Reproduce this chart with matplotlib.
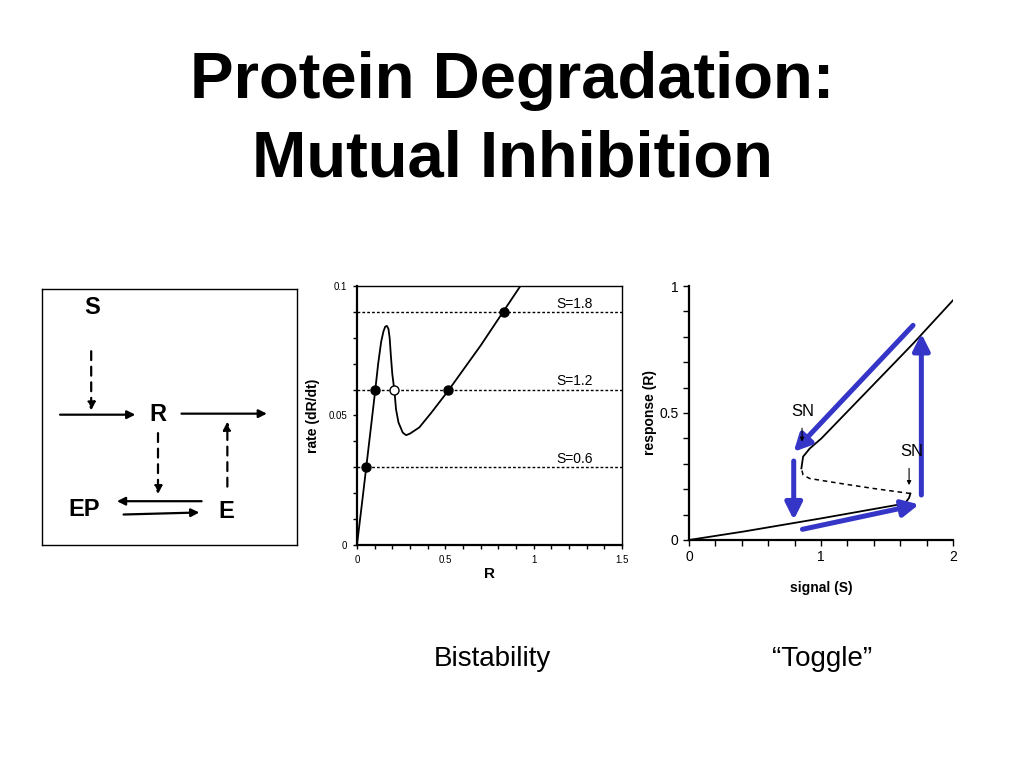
import numpy as np
import matplotlib.pyplot as plt
from matplotlib.ticker import MultipleLocator

plt.rcParams['font.family'] = ['Liberation Sans', 'DejaVu Sans']

# rate curve (degradation rate vs R)
rate_R = [0, 0.03, 0.0525, 0.08, 0.103, 0.12, 0.137, 0.150, 0.160, 0.169, 0.178, 0.185, 0.192, 0.200,
          0.212, 0.221, 0.235, 0.259, 0.278, 0.30, 0.353, 0.42, 0.516, 0.60, 0.70, 0.831, 0.925]
rate_val = [0, 0.017, 0.030, 0.046, 0.0595, 0.070, 0.0785, 0.0825, 0.0843, 0.0846, 0.0835, 0.080, 0.073, 0.066,
            0.0595, 0.0524, 0.0473, 0.0434, 0.0424, 0.0430, 0.0454, 0.051, 0.0595, 0.0675, 0.077, 0.0904, 0.1]
prod_S = ['S=0.6', 'S=1.2', 'S=1.8']
prod_rate = [0.03, 0.06, 0.09]
stable_R = [0.0525, 0.103, 0.516, 0.831]
stable_rate = [0.03, 0.06, 0.06, 0.09]
unstable_R = [0.212]
unstable_rate = [0.06]

# bifurcation diagram
low_S = [0, 0.41, 1.0, 1.596, 1.646, 1.667, 1.677]
low_R = [0, 0.033, 0.085, 0.140, 0.151, 0.166, 0.183]
mid_S = [1.677, 1.394, 1.141, 0.914, 0.864, 0.851]
mid_R = [0.183, 0.203, 0.223, 0.242, 0.256, 0.282]
up_S = [0.851, 0.864, 0.914, 1.003, 1.394, 1.697, 2.0]
up_R = [0.282, 0.328, 0.360, 0.400, 0.610, 0.773, 0.944]
# hysteresis arrows (start S, start R, end S, end R)
loop_arrows = [(1.697, 0.845, 0.793, 0.347),
               (0.793, 0.311, 0.793, 0.079),
               (0.859, 0.042, 1.742, 0.140),
               (1.760, 0.177, 1.760, 0.813)]

blue = '#3535C8'

fig = plt.figure(figsize=(10.24, 7.68), dpi=100)
fig.text(0.5, 0.895, 'Protein Degradation:', ha='center', va='center', fontsize=47, fontweight='bold')
fig.text(0.5, 0.792, 'Mutual Inhibition', ha='center', va='center', fontsize=47, fontweight='bold')

# ---- reaction scheme ----
ax0 = fig.add_axes([0.041, 0.2904, 0.249, 0.3333])
ax0.set_xlim(0, 1)
ax0.set_ylim(0, 1)
ax0.set_xticks([])
ax0.set_yticks([])
for sp in ax0.spines.values():
    sp.set_linewidth(1.0)
for lab, x, y in [('S', 0.195, 0.929), ('R', 0.455, 0.509), ('EP', 0.164, 0.140), ('E', 0.724, 0.132)]:
    ax0.text(x, y, lab, ha='center', va='center', fontsize=17, fontweight='bold')

solid = dict(arrowstyle='-|>', color='k', lw=1.6, mutation_scale=12, shrinkA=0, shrinkB=0)
dashed = dict(arrowstyle='-|>', color='k', lw=1.6, mutation_scale=12, shrinkA=0, shrinkB=0,
              linestyle=(0, (4, 3)))
ax0.annotate('', xy=(0.366, 0.509), xytext=(0.071, 0.509), arrowprops=solid)
ax0.annotate('', xy=(0.882, 0.513), xytext=(0.547, 0.513), arrowprops=solid)
ax0.annotate('', xy=(0.294, 0.171), xytext=(0.626, 0.171), arrowprops=solid)
ax0.annotate('', xy=(0.617, 0.127), xytext=(0.320, 0.119), arrowprops=solid)
ax0.annotate('', xy=(0.193, 0.525), xytext=(0.193, 0.757), arrowprops=dashed)
ax0.annotate('', xy=(0.455, 0.198), xytext=(0.455, 0.437), arrowprops=dashed)
ax0.annotate('', xy=(0.727, 0.482), xytext=(0.727, 0.228), arrowprops=dashed)

# ---- rate plot ----
ax1 = fig.add_axes([0.3486, 0.2904, 0.2588, 0.3372])
ax1.plot(rate_R, rate_val, color='k', lw=1.3)
for lab, r in zip(prod_S, prod_rate):
    ax1.axhline(r, color='k', lw=1.0, linestyle=(0, (2, 1.5)))
    ax1.text(1.23, r + 0.0005, lab, ha='center', va='bottom', fontsize=10)
ax1.plot(stable_R, stable_rate, 'o', color='k', markersize=6.5)
ax1.plot(unstable_R, unstable_rate, 'o', mfc='white', mec='k', markersize=6.5, mew=1)
ax1.set_xlim(0, 1.5)
ax1.set_ylim(0, 0.1)
ax1.set_xticks([0, 0.5, 1, 1.5])
ax1.set_xticklabels(['0', '0.5', '1', '1.5'])
ax1.set_yticks([0, 0.05, 0.1])
ax1.set_yticklabels(['0', '0.05', '0.1'])
ax1.xaxis.set_minor_locator(MultipleLocator(0.1))
ax1.yaxis.set_minor_locator(MultipleLocator(0.01))
ax1.tick_params(which='both', labelsize=7, length=3, width=1, pad=4)
ax1.set_xlabel('R', fontsize=11, fontweight='bold', labelpad=2)
ax1.set_ylabel('rate (dR/dt)', fontsize=10, fontweight='bold', labelpad=6)
for sp in ax1.spines.values():
    sp.set_linewidth(1.0)
ax1.spines['left'].set_linewidth(1.6)
ax1.spines['bottom'].set_linewidth(1.6)

# ---- bifurcation plot ----
ax2 = fig.add_axes([0.6729, 0.2969, 0.2578, 0.3307])
ax2.plot(low_S, low_R, color='k', lw=1.3)
ax2.plot(mid_S, mid_R, color='k', lw=1.1, linestyle=(0, (3, 2.5)))
ax2.plot(up_S, up_R, color='k', lw=1.3)
for s0, r0, s1, r1 in loop_arrows:
    ax2.annotate('', xy=(s1, r1), xytext=(s0, r0),
                 arrowprops=dict(arrowstyle='-|>,head_length=1.0,head_width=0.5', color=blue,
                                 lw=3.6, mutation_scale=10, shrinkA=0, shrinkB=0))
ax2.text(0.864, 0.505, 'SN', ha='center', va='center', fontsize=12)
ax2.annotate('', xy=(0.856, 0.387), xytext=(0.856, 0.44),
             arrowprops=dict(arrowstyle='-|>', color='k', lw=0.8, mutation_scale=6, shrinkA=0, shrinkB=0))
ax2.text(1.684, 0.347, 'SN', ha='center', va='center', fontsize=12)
ax2.annotate('', xy=(1.667, 0.216), xytext=(1.667, 0.282),
             arrowprops=dict(arrowstyle='-|>', color='k', lw=0.8, mutation_scale=6, shrinkA=0, shrinkB=0))
ax2.set_xlim(0, 2)
ax2.set_ylim(0, 1)
ax2.set_xticks([0, 1, 2])
ax2.set_yticks([0, 0.5, 1])
ax2.set_yticklabels(['0', '0.5', '1'])
ax2.xaxis.set_minor_locator(MultipleLocator(0.2))
ax2.yaxis.set_minor_locator(MultipleLocator(0.1))
ax2.tick_params(which='both', labelsize=10, length=4, width=1)
ax2.set_xlabel('signal (S)', fontsize=10, fontweight='bold', labelpad=12)
ax2.set_ylabel('response (R)', fontsize=10, fontweight='bold', labelpad=2)
ax2.spines['top'].set_visible(False)
ax2.spines['right'].set_visible(False)
ax2.spines['left'].set_linewidth(1.6)
ax2.spines['bottom'].set_linewidth(1.6)

fig.text(0.481, 0.142, 'Bistability', ha='center', va='center', fontsize=20)
fig.text(0.803, 0.142, '\u201cToggle\u201d', ha='center', va='center', fontsize=20)

fig.savefig('out.png', dpi=100)
